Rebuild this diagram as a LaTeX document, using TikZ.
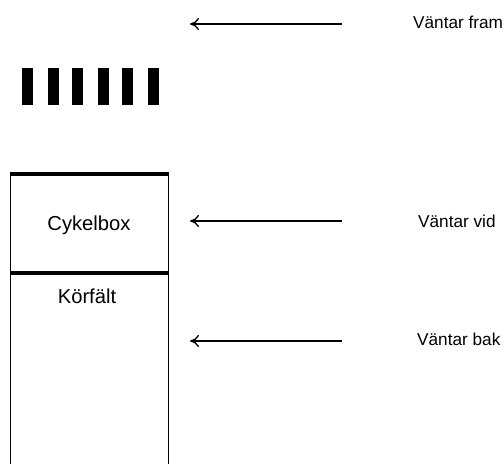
\documentclass[tikz,border=0pt]{standalone}
\usepackage{fontspec}
\setmainfont{Liberation Sans}
\usetikzlibrary{arrows.meta}
\begin{document}
\begin{tikzpicture}[x=1pt,y=-1pt,
  stripe/.style={fill=black},
  lane/.style={line width=1.5pt},
  bar/.style={line width=4pt},
  waitarrow/.style={line width=1.3pt,-{To[length=9pt,width=12pt,line width=1.3pt]}},
  waitlabel/.style={anchor=base west,inner sep=0pt,font=\fontsize{17.2}{19}\selectfont},
  boxlabel/.style={inner sep=0pt,font=\fontsize{20.2}{23}\selectfont}]
\useasboundingbox (0,0) rectangle (504,464);
% stop line stripes
\foreach \x in {21.7,47.7,72.3,98.3,121.7,148.3}
  \fill[stripe] (\x,67.5) rectangle ++(11,37.5);
% lane with bicycle box
\draw[lane] (10.5,174) -- (10.5,464);
\draw[lane] (168.5,174) -- (168.5,464);
\draw[bar] (9.75,174) -- (169.25,174);
\draw[bar] (9.75,273) -- (169.25,273);
\node[boxlabel,anchor=base] (cykel) at (89,230) {Cykelbox};
\node[boxlabel,anchor=base] (korf) at (87,303) {Körfält};
% labels and arrows
\node[waitlabel] (fram) at (413,28.3) {Väntar fram};
\node[waitlabel] (vid) at (418,227.7) {Väntar vid};
\node[waitlabel] (bak) at (417,345) {Väntar bak};
\coordinate (framS) at (342,24);
\coordinate (framE) at (190,24);
\coordinate (vidS) at (342,221);
\coordinate (vidE) at (190,221);
\coordinate (bakS) at (342,341);
\coordinate (bakE) at (190,341);
\draw[waitarrow] (framS) -- (framE);
\draw[waitarrow] (vidS) -- (vidE);
\draw[waitarrow] (bakS) -- (bakE);
\end{tikzpicture}
\end{document}
